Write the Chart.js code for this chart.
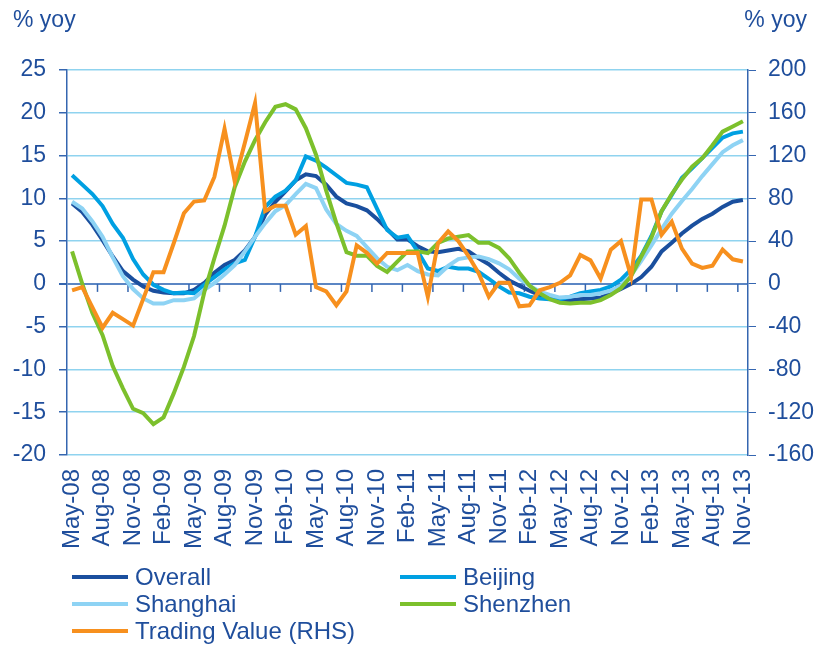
<!DOCTYPE html>
<html>
<head>
<meta charset="utf-8">
<script src="https://cdn.jsdelivr.net/npm/chart.js@4.4.1/dist/chart.umd.min.js"></script>
<style>
  body { margin: 0; background: #fff; }
  #wrap { position: relative; width: 818px; height: 645px; font-family: 'Liberation Sans', Arial, sans-serif; color: #1f4e9c; }
  #chart { position: absolute; left: 0; top: 0; }
  .unit { position: absolute; top: 6px; font-size: 23px; }
  #legend { position: absolute; left: 72px; top: 564px; display: grid; grid-template-columns: 328px 300px; row-gap: 1px; }
  .item { display: flex; align-items: center; height: 26px; font-size: 24px; white-space: nowrap; }
  .swatch { width: 56px; height: 4px; margin-right: 7px; }
</style>
</head>
<body>
<div id="wrap">
  <canvas id="chart" width="818" height="570"></canvas>
  <div class="unit" style="left:13px">% yoy</div>
  <div class="unit" style="right:11px">% yoy</div>
  <div id="legend"></div>
</div>
<script>
//meses de May-08 a Nov-13, rótulo a cada 3 meses
const meses = ['Jan','Feb','Mar','Apr','May','Jun','Jul','Aug','Sep','Oct','Nov','Dec'];
const labels = [];
for (let i = 0; i < 67; i++) {
    const m = (4 + i) % 12;
    const y = 8 + Math.floor((4 + i) / 12);
    labels.push(meses[m] + '-' + String(y).padStart(2, '0'));
}

const overall = [9.4, 8.4, 6.9, 5.1, 3.2, 1.5, 0.5, -0.3, -0.8, -1.0,
    -1.1, -1.1, -0.7, 0.1, 1.3, 2.2, 2.8, 3.9, 5.5, 8.1,
    9.6, 10.8, 12.1, 12.8, 12.6, 11.6, 10.2, 9.4, 9.1, 8.6,
    7.6, 6.4, 5.2, 5.2, 4.4, 3.8, 3.7, 3.9, 4.1, 3.8,
    3.0, 2.3, 1.3, 0.4, -0.2, -0.8, -1.3, -1.6, -1.8, -1.9,
    -1.8, -1.7, -1.6, -1.1, -0.6, 0.0, 0.8, 2.0, 3.8, 4.8,
    5.9, 6.8, 7.6, 8.2, 9.0, 9.6, 9.8];

const beijing = [12.7, 11.6, 10.5, 9.1, 7.0, 5.4, 2.9, 1.1, -0.1, -0.7,
    -1.1, -1.0, -1.1, -0.1, 0.8, 1.7, 2.4, 2.8, 5.5, 9.0,
    10.2, 10.9, 12.1, 14.9, 14.4, 13.6, 12.7, 11.8, 11.6, 11.3,
    8.8, 6.3, 5.4, 5.6, 3.8, 1.8, 1.5, 2.0, 1.8, 1.8,
    1.4, 0.6, -0.3, -1.0, -1.1, -1.5, -1.7, -1.8, -1.8, -1.5,
    -1.1, -0.9, -0.7, -0.3, 0.5, 1.7, 3.3, 5.6, 8.5, 10.4,
    12.4, 13.5, 14.7, 15.9, 17.1, 17.6, 17.8];

const shanghai = [9.6, 8.8, 7.3, 5.5, 3.1, 0.9, -0.6, -1.7, -2.3, -2.3,
    -1.9, -1.9, -1.7, -0.7, 0.1, 1.1, 2.2, 3.8, 5.5, 7.1,
    8.5, 9.2, 10.5, 11.7, 11.2, 8.7, 7.0, 6.2, 5.6, 4.3,
    3.0, 2.0, 1.6, 2.2, 1.5, 1.1, 1.0, 2.1, 2.9, 3.1,
    3.2, 2.9, 2.4, 1.7, 0.6, -0.2, -0.9, -1.3, -1.6, -1.5,
    -1.3, -1.3, -1.1, -0.8, -0.2, 1.0, 2.7, 4.5, 6.4, 8.2,
    9.7, 11.1, 12.6, 14.0, 15.4, 16.2, 16.8];

const shenzhen = [3.8, 0.0, -3.4, -6.0, -9.6, -12.2, -14.6, -15.1, -16.4, -15.6,
    -12.8, -9.7, -6.1, -1.0, 3.0, 6.8, 11.3, 14.3, 16.8, 18.9,
    20.7, 21.0, 20.4, 18.2, 15.1, 10.9, 7.1, 3.7, 3.3, 3.3,
    2.1, 1.4, 2.6, 3.8, 3.8, 3.6, 4.8, 5.3, 5.5, 5.7,
    4.8, 4.8, 4.2, 3.0, 1.3, -0.2, -1.1, -1.8, -2.2, -2.3,
    -2.2, -2.2, -1.9, -1.3, -0.5, 0.9, 3.2, 5.4, 8.5, 10.5,
    12.2, 13.7, 14.7, 16.2, 17.8, 18.4, 19.0];

//eixo da direita
const tradingValue = [-6, -3, -22, -41, -27, -33, -39, -14, 11, 11,
    38, 66, 77, 78, 100, 145, 96, 132, 169, 68,
    73, 73, 46, 54, -3, -7, -20, -7, 36, 29,
    19, 29, 29, 29, 29, -12, 38, 49, 40, 26,
    10, -12, 1, 1, -21, -20, -6, -3, 1, 8,
    27, 22, 5, 32, 40, 7, 79, 79, 46, 58,
    33, 19, 15, 17, 32, 23, 21];

const textColor = '#1f4e9c';
const axisColor = '#3566b0';
const gridColor = '#8fd3ef';
const fonte = { family: "'Liberation Sans', Arial, sans-serif", size: 23 };

//marcas pequenas na linha do zero, a cada 3 meses
const zeroTicks = {
    id: 'zeroTicks',
    beforeDatasetsDraw(chart) {
        const x = chart.scales.x, y = chart.scales.y;
        const y0 = y.getPixelForValue(0);
        const ctx = chart.ctx;
        ctx.save();
        ctx.strokeStyle = axisColor;
        ctx.lineWidth = 1.5;
        for (let k = 3; k < labels.length; k += 3) {
            const px = (x.getPixelForValue(k - 1) + x.getPixelForValue(k)) / 2;
            ctx.beginPath();
            ctx.moveTo(px, y0);
            ctx.lineTo(px, y0 + 8);
            ctx.stroke();
        }
        ctx.restore();
    }
};

function serie(label, data, color, axis, order) {
    return {
        label: label,
        data: data,
        borderColor: color,
        backgroundColor: color,
        borderWidth: 4,
        pointRadius: 0,
        tension: 0,
        yAxisID: axis,
        order: order
    };
}

const chart = new Chart(document.getElementById('chart').getContext('2d'), {
    type: 'line',
    data: {
        labels: labels,
        datasets: [
            serie('Overall', overall, '#1a4f9e', 'y', 4),
            serie('Beijing', beijing, '#00a0e2', 'y', 3),
            serie('Shanghai', shanghai, '#8ed3f4', 'y', 2),
            serie('Shenzhen', shenzhen, '#7cc02c', 'y', 1),
            serie('Trading Value (RHS)', tradingValue, '#f7901e', 'y2', 0)
        ]
    },
    options: {
        responsive: false,
        animation: false,
        layout: { padding: { top: 70, left: 0, right: 0, bottom: 0 } },
        plugins: {
            legend: { display: false },
            tooltip: { enabled: false }
        },
        scales: {
            x: {
                offset: true,
                grid: { display: false },
                border: { display: false },
                ticks: {
                    autoSkip: false,
                    minRotation: 90,
                    maxRotation: 90,
                    padding: 6,
                    color: textColor,
                    font: { family: fonte.family, size: 24 },
                    callback: (v, i) => i % 3 === 0 ? labels[i] : ''
                },
                afterFit: s => { s.height = 115; }
            },
            y: {
                position: 'left',
                min: -20,
                max: 25,
                ticks: { stepSize: 5, padding: 13, color: textColor, font: fonte },
                grid: {
                    color: c => c.tick && c.tick.value === 0 ? '#5b86c4' : gridColor,
                    lineWidth: c => c.tick && c.tick.value === 0 ? 2 : 1.5,
                    tickColor: axisColor,
                    tickLength: 8
                },
                border: { color: axisColor, width: 1.5 },
                afterFit: s => { s.width = 67; }
            },
            y2: {
                position: 'right',
                min: -160,
                max: 200,
                ticks: { stepSize: 40, padding: 12, color: textColor, font: fonte },
                grid: { drawOnChartArea: false, tickColor: axisColor, tickLength: 8 },
                border: { color: axisColor, width: 1.5 },
                afterFit: s => { s.width = 70; }
            }
        }
    },
    plugins: [zeroTicks]
});

//legenda em duas colunas
const legend = document.getElementById('legend');
chart.data.datasets.forEach(ds => {
    const item = document.createElement('div');
    item.className = 'item';
    item.innerHTML = '<span class="swatch" style="background:' + ds.borderColor + '"></span>' + ds.label;
    legend.appendChild(item);
});
</script>
</body>
</html>
